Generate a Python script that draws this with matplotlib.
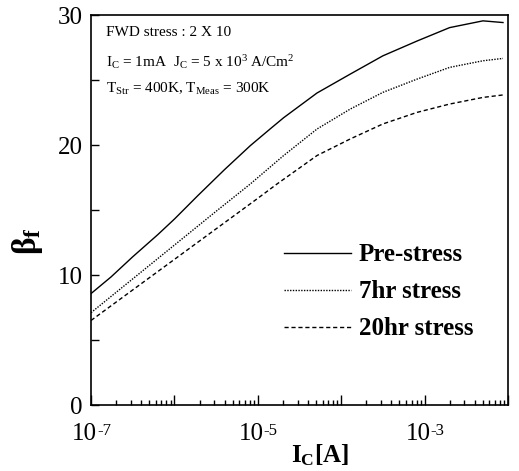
import matplotlib
matplotlib.use('Agg')
import matplotlib.pyplot as plt
from matplotlib.ticker import FixedLocator, LogLocator, NullFormatter
from matplotlib.transforms import ScaledTranslation

plt.rcParams['font.family'] = 'Liberation Serif'
plt.rcParams['mathtext.fontset'] = 'custom'
plt.rcParams['mathtext.rm'] = 'Liberation Serif'
plt.rcParams['mathtext.it'] = 'Liberation Serif'
plt.rcParams['mathtext.bf'] = 'Liberation Serif:bold'

# log10(Ic) and beta_f
logic_pre = [-7.0, -6.76, -6.5, -6.2, -6.0, -5.72, -5.4, -5.09, -4.84, -4.69, -4.29, -3.89, -3.5, -3.09, -2.7, -2.3, -2.06]
beta_pre = [8.57, 9.85, 11.4, 13.1, 14.3, 16.1, 18.1, 19.95, 21.3, 22.1, 24.0, 25.46, 26.86, 28.0, 29.03, 29.55, 29.42]

logic_7hr = [-7.0, -6.5, -6.0, -5.5, -5.09, -4.69, -4.29, -3.89, -3.5, -3.09, -2.7, -2.3, -2.06]
beta_7hr = [7.1, 9.7, 12.3, 14.9, 17.0, 19.19, 21.23, 22.77, 24.05, 25.07, 25.97, 26.48, 26.66]

logic_20hr = [-7.0, -6.5, -6.0, -5.5, -5.0, -4.77, -4.29, -3.89, -3.5, -3.09, -2.7, -2.3, -2.06]
beta_20hr = [6.5, 8.85, 11.2, 13.55, 15.9, 17.0, 19.19, 20.47, 21.62, 22.51, 23.15, 23.66, 23.85]

labels = ['Pre-stress', '7hr stress', '20hr stress']
xtick_pos = [1e-7, 1e-5, 1e-3]
xtick_exp = ['-7', '-5', '-3']

fig = plt.figure(figsize=(5.19, 4.71), dpi=100)
ax = fig.add_axes([91 / 519, 66 / 471, 417 / 519, 390 / 471])

ax.plot([10 ** v for v in logic_pre], beta_pre, color='black', lw=1.0, ls='-', label=labels[0])
ax.plot([10 ** v for v in logic_7hr], beta_7hr, color='black', lw=1.0, ls=(0, (1, 1)), label=labels[1])
ax.plot([10 ** v for v in logic_20hr], beta_20hr, color='black', lw=1.0, ls=(0, (3, 2)), label=labels[2])

ax.set_xscale('log')
ax.set_xlim(1e-7, 1e-2)
ax.set_ylim(0, 30)

ax.xaxis.set_major_locator(LogLocator(base=10, numticks=20))
ax.xaxis.set_minor_locator(LogLocator(base=10, subs=range(2, 10), numticks=100))
ax.xaxis.set_major_formatter(NullFormatter())
ax.xaxis.set_minor_formatter(NullFormatter())
# tick labels written as "10" + small raised exponent, like the original
shift = ax.get_xaxis_transform() + ScaledTranslation(0.06, 0, fig.dpi_scale_trans)
for p, e in zip(xtick_pos, xtick_exp):
    ax.text(p, -0.045, '10', transform=shift, ha='right', va='top', fontsize=18)
    ax.text(p, -0.045, e, transform=shift, ha='left', va='top', fontsize=12)

ax.set_yticks([0, 10, 20, 30])
ax.yaxis.set_minor_locator(FixedLocator([5, 15, 25]))
ax.tick_params(axis='y', which='major', direction='in', length=6, width=1, labelsize=18, pad=6)
ax.tick_params(axis='y', which='minor', direction='in', length=6, width=1)
ax.tick_params(axis='x', which='major', direction='in', length=7, width=1)
ax.tick_params(axis='x', which='minor', direction='in', length=3.5, width=1)
ax.tick_params(top=False, right=False)
for s in ax.spines.values():
    s.set_linewidth(1.2)

ax.set_xlabel(r'$\mathbf{I_C}$[A]', fontsize=18, fontweight='bold')
ax.xaxis.set_label_coords(0.55, -0.095)
ax.set_ylabel(r'$\mathbf{\beta_f}$', fontsize=24)
ax.yaxis.set_label_coords(-0.11, 0.42)

ax.text(0.035, 0.955, 'FWD stress : 2 X 10', transform=ax.transAxes, fontsize=11, va='center')
ax.text(0.035, 0.88, r'I$_\mathrm{C}$ = 1mA  J$_\mathrm{C}$ = 5 x 10$^3$ A/Cm$^2$', transform=ax.transAxes, fontsize=11, va='center')
ax.text(0.035, 0.81, r'T$_\mathrm{Str}$ = 400K, T$_\mathrm{Meas}$ = 300K', transform=ax.transAxes, fontsize=11, va='center')

ax.legend(loc='upper left', bbox_to_anchor=(0.438, 0.44), frameon=False,
          prop={'weight': 'bold', 'size': 18}, handlelength=2.7,
          handletextpad=0.3, labelspacing=0.56, borderaxespad=0)

fig.savefig('out.png', dpi=100)
